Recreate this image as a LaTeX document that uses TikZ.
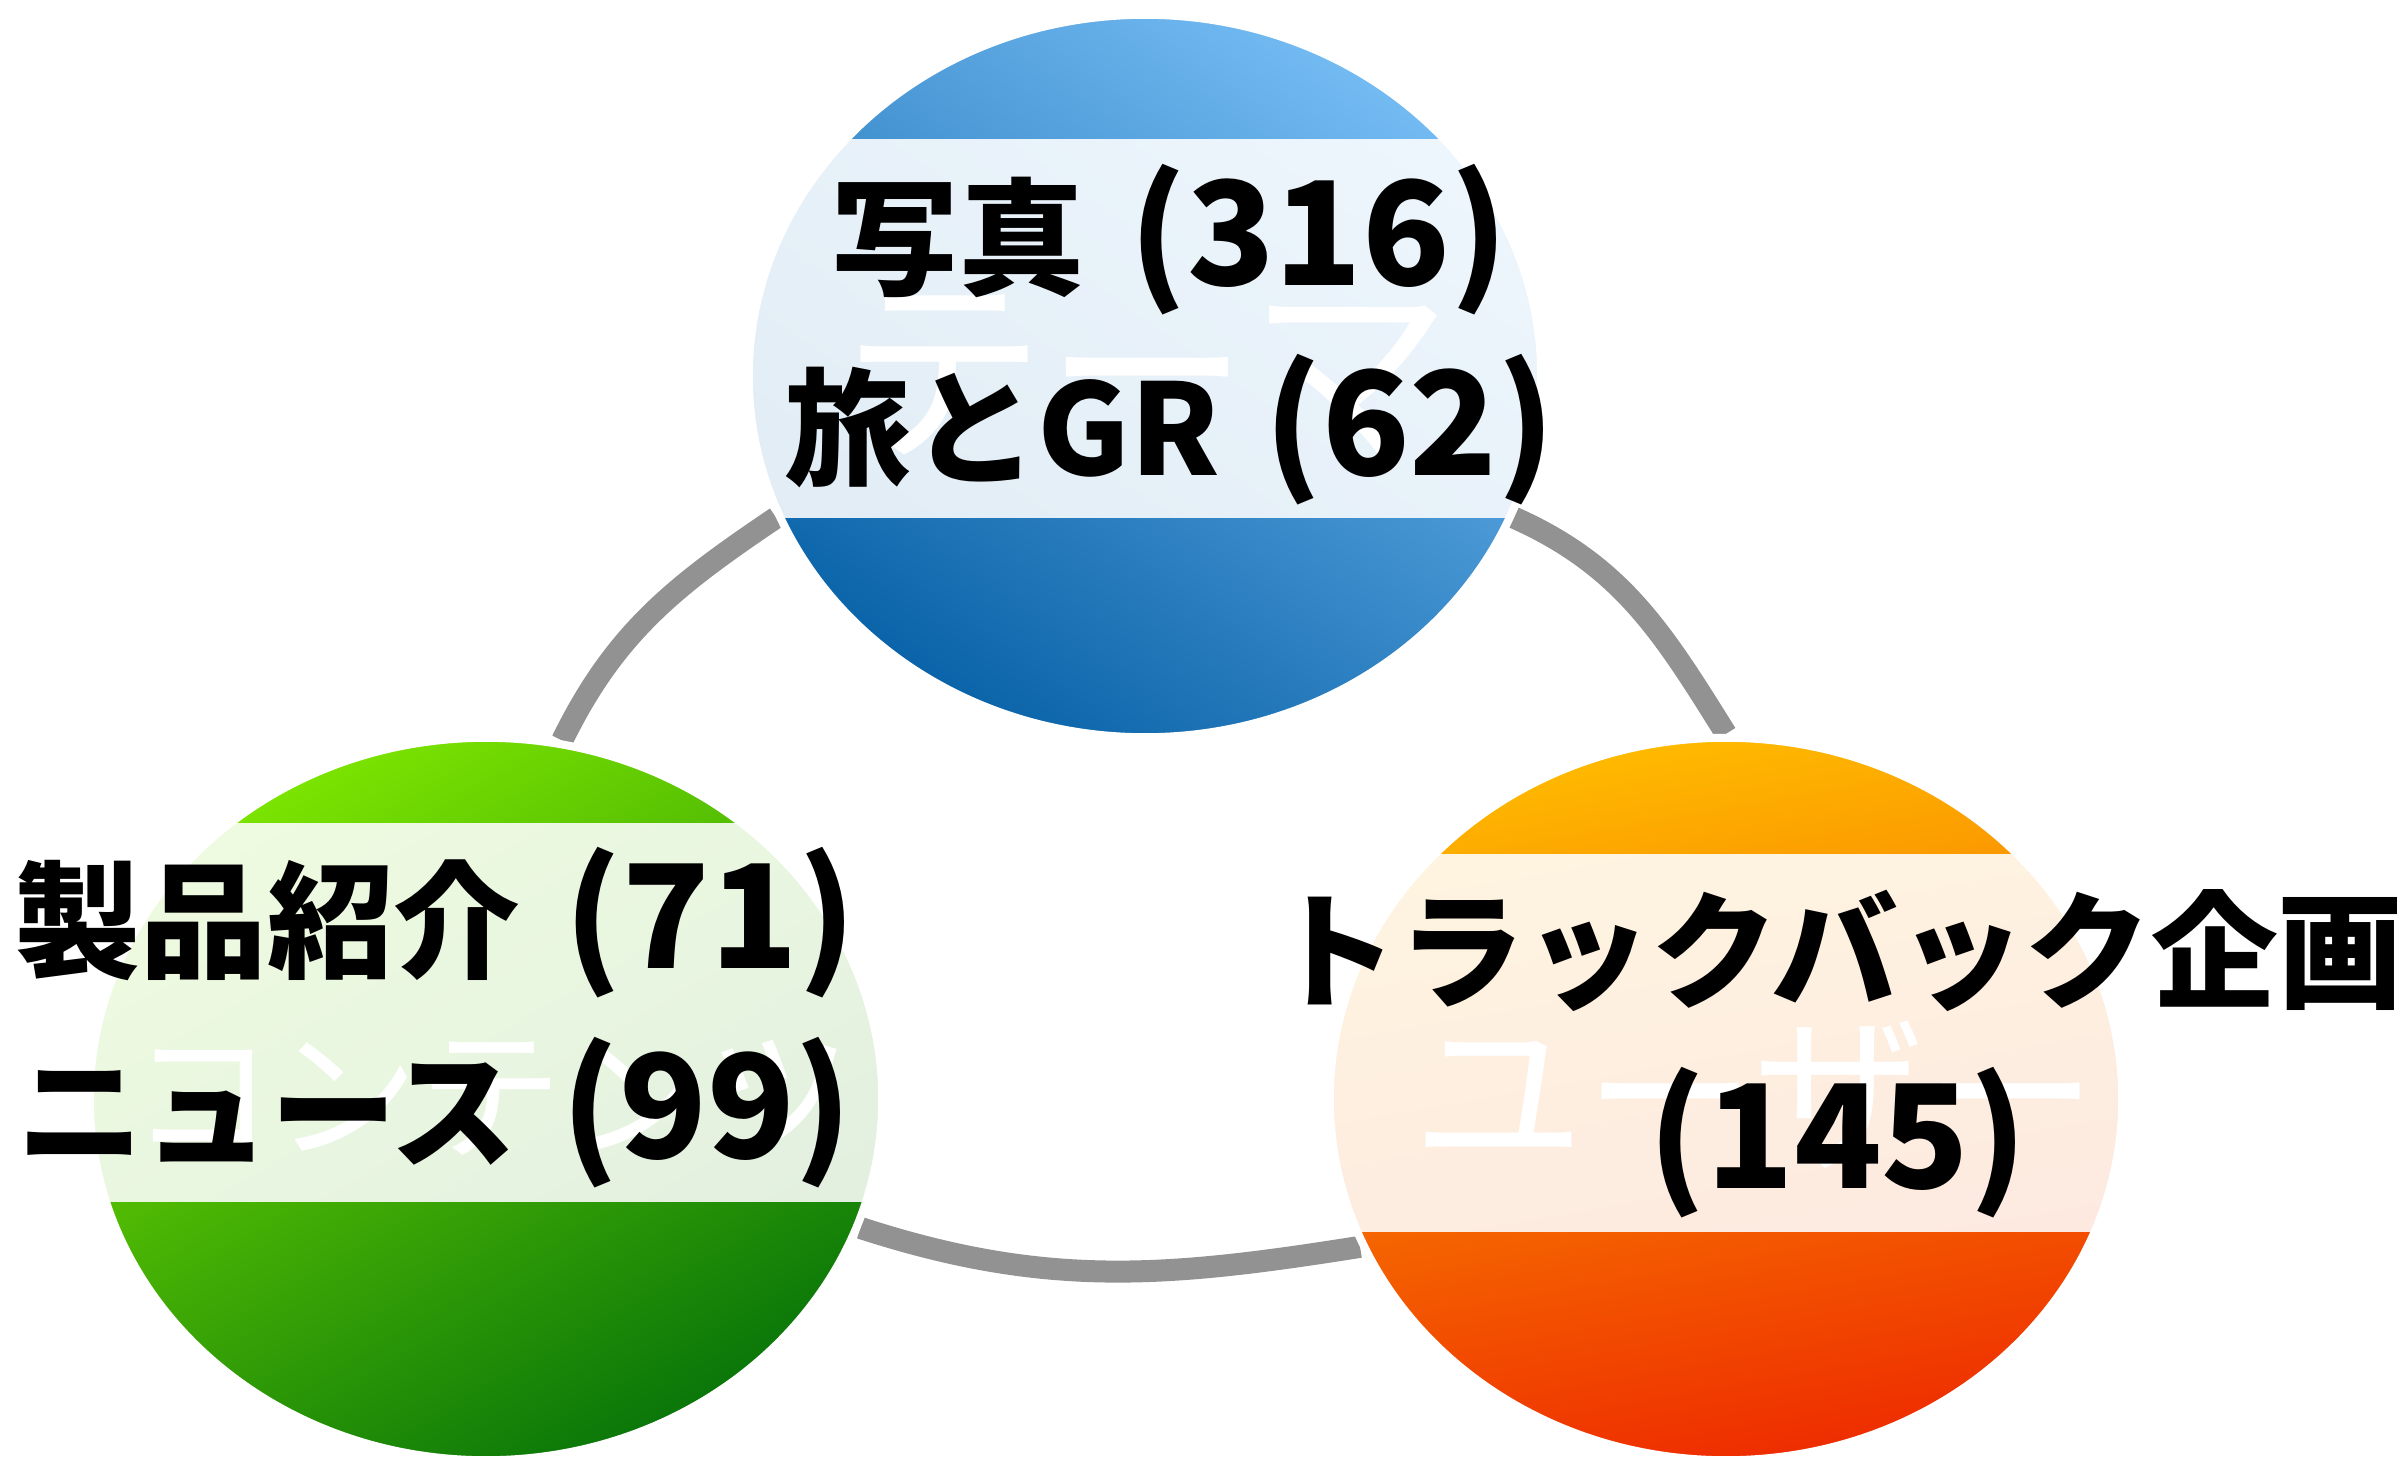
\documentclass[tikz,border=0pt]{standalone}
\usepackage{fontspec}
\setmainfont{Noto Sans CJK JP}
\usetikzlibrary{shapes.geometric,calc}
\pgfdeclarelayer{back}
\pgfsetlayers{back,main}
\definecolor{arcgray}{HTML}{929292}
\definecolor{blueA}{HTML}{74BBF3}
\definecolor{blueB}{HTML}{0A63A8}
\definecolor{greenA}{HTML}{7CE400}
\definecolor{greenB}{HTML}{097609}
\definecolor{orangeA}{HTML}{FFBA00}
\definecolor{orangeB}{HTML}{EE2C00}
\newcommand{\cnt}[1]{{\fontsize{41}{54}\selectfont #1}}
\begin{document}
\begin{tikzpicture}[x=0.01cm,y=0.01cm]
        \tikzstyle{bubble}=[ellipse,draw=white,line width=0.08cm,inner sep=0pt,minimum width=7.92cm,minimum height=7.22cm]
        \tikzstyle{ghost}=[text=white,inner sep=0pt]
        \tikzstyle{tally}=[align=center,anchor=base,inner sep=0pt,font=\bfseries\fontsize{36}{54}\selectfont]
        \tikzstyle{link}=[draw=arcgray,line width=0.22cm]
        \tikzset{band/.style 2 args={path picture={\fill[white,fill opacity=.88] ($(path picture bounding box.center)+(-420,#1)$) rectangle ($(path picture bounding box.center)+(420,#2)$);}}}
       \useasboundingbox (0,0) rectangle (2397,1459);
       \node [bubble,shading=axis,top color=blueA,bottom color=blueB,shading angle=-35,band={-142}{237}] (theme) at (1145,1083) {};
       \node [bubble,shading=axis,top color=greenA,bottom color=greenB,shading angle=30,band={-103}{276}] (content) at (486,360) {};
       \node [bubble,shading=axis,top color=orangeA,bottom color=orangeB,shading angle=10,band={-133}{245}] (user) at (1726,360) {};
       \begin{pgfonlayer}{back}
         \path[link] (theme.201) to[out=214,in=64] (content.78);
         \path[link] (theme.339) to[out=336,in=122] (user.90);
         \path[link] (content.341) to[out=342,in=189] (user.202);
       \end{pgfonlayer}
       % faint names behind the counts
       \node [ghost,font=\fontsize{58}{58}\selectfont] (themeG) at (1147,1084) {テーマ};
       \node [ghost,font=\fontsize{41}{41}\selectfont] (contentG) at (491,361) {コンテンツ};
       \node [ghost,font=\fontsize{49}{49}\selectfont] (userG) at (1755,364) {ユーザー};
       \node [tally] (themeT) at (1170,984) {写真\hspace{.35em}\cnt{(316)}\\旅とGR\hspace{.35em}\cnt{(62)}};
       \node [tally] (contentT) at (435,301) {製品紹介\hspace{.35em}\cnt{(71)}\\ニュース\hspace{.35em}\cnt{(99)}};
       \node [tally] (userT) at (1838,271) {トラックバック企画\\\cnt{(145)}};
\end{tikzpicture}
\end{document}
